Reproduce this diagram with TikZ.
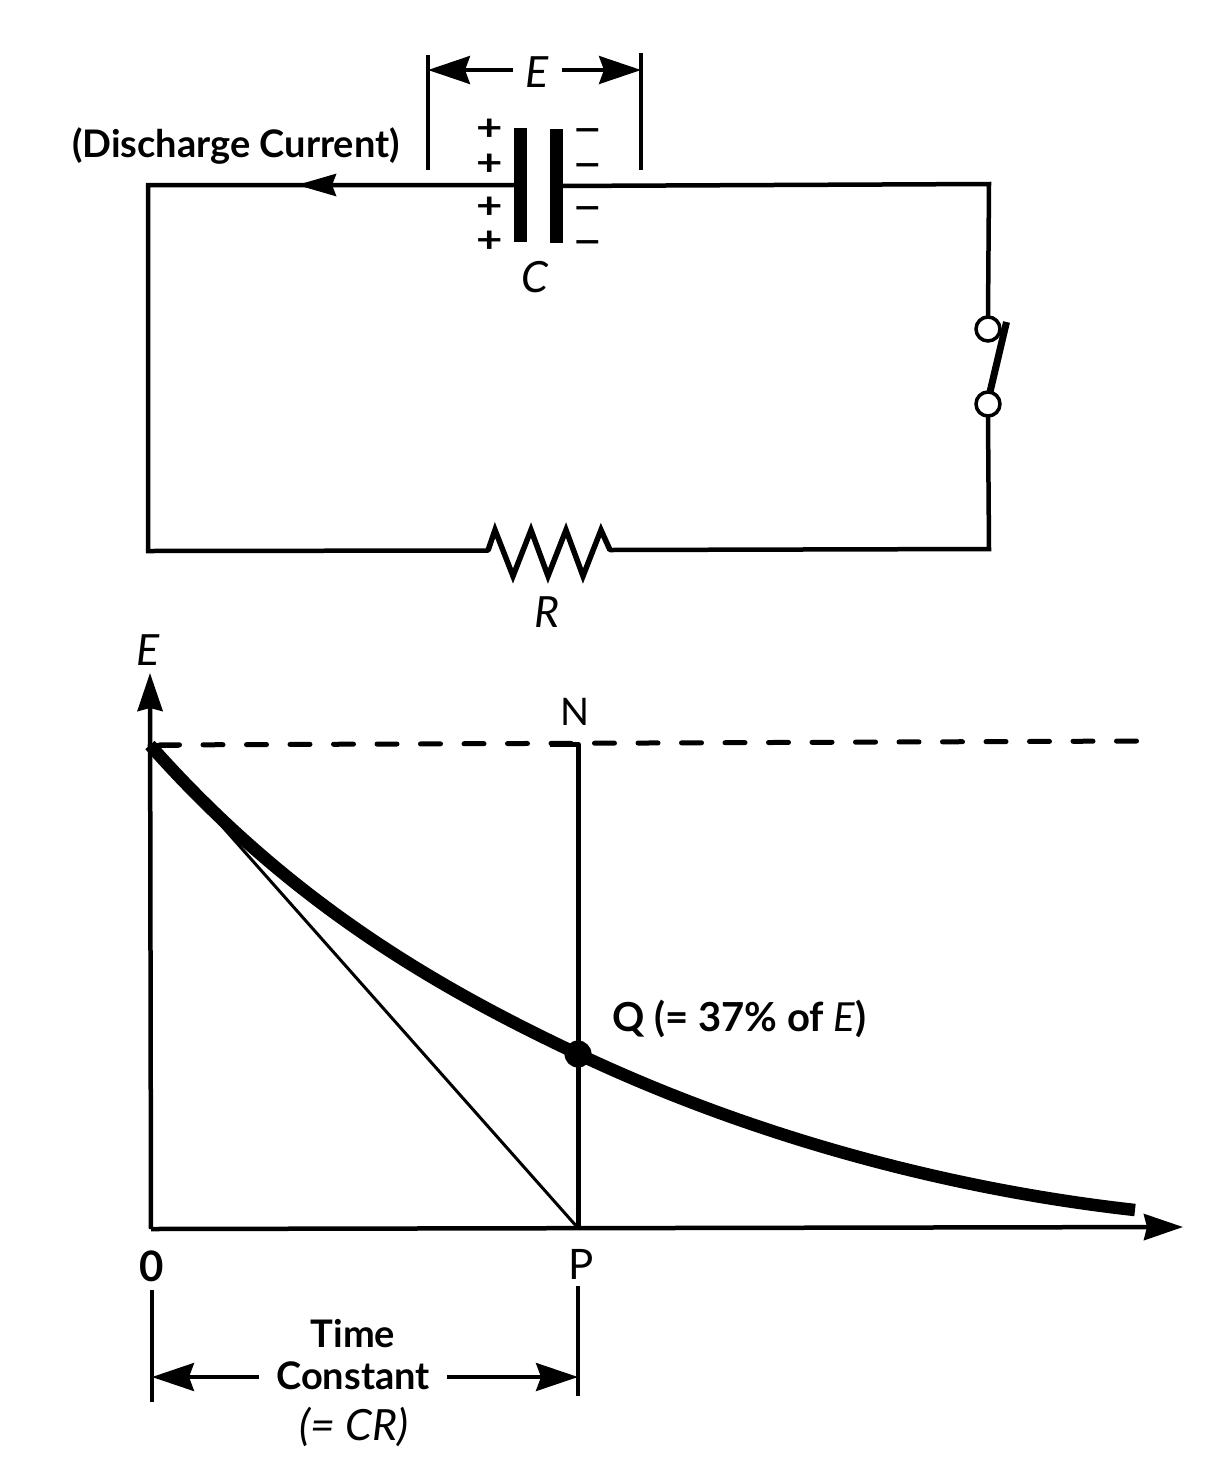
\documentclass[tikz,border=0pt]{standalone}
\usepackage{fontspec}
\setmainfont{Lato}
\usetikzlibrary{arrows.meta}
\tikzset{
  wire/.style={line width=4.5pt,line join=miter,line cap=round},
  zigzag/.style={line width=5.5pt,line join=miter,miter limit=10},
  thin line/.style={line width=3.5pt,line cap=butt},
  plate/.style={draw=none,fill=black,minimum width=13pt,minimum height=114pt,inner sep=0pt},
  sign/.style={inner sep=0pt,font=\fontsize{36.5}{37}\selectfont\bfseries},
  lab/.style={inner sep=0pt,font=\fontsize{38}{40}\selectfont\bfseries},
  ilab/.style={inner sep=0pt,font=\fontsize{43}{44}\selectfont\itshape},
  term/.style={circle,draw,fill=white,line width=3.5pt,minimum size=24pt,inner sep=0pt},
  bigarrow/.style={-{Stealth[length=42pt,width=28pt,inset=5pt]},line width=3.5pt},
  axis/.style={line width=4.5pt},
  dashy/.style={line width=5pt,line cap=round},
}
\begin{document}
\begin{tikzpicture}[x=1pt,y=-1pt]
\useasboundingbox (0,0) rectangle (1219,1476);
% circuit
\node[plate] (p1) at (520,185) {};
\node[plate] (p2) at (556.5,186) {};
\coordinate (tl) at (148,185);
\coordinate (bl) at (148,551);
\coordinate (rs) at (488,550.5);
\coordinate (re) at (610,550);
\coordinate (br) at (989,549);
\coordinate (tr) at (989,184);
\node[term] (s1) at (988,329) {};
\node[term] (s2) at (988,404) {};
\draw[wire] (p1.center) -- (tl) -- (bl) -- (rs);
\draw[zigzag] (rs) -- (495,530) -- (513,576) -- (531,530) -- (548,576) -- (566,530) -- (583,576) -- (601,530) -- (re);
\draw[wire] (re) -- (br) -- (s2.south);
\draw[wire] (s1.north) -- (tr) -- (p2.center);
\node[plate] at (p1) {};
\node[plate] at (p2) {};
\coordinate (ca) at (336,185);
\coordinate (cb) at (297,185);
\draw[-{Stealth[length=39pt,width=22pt,inset=4pt]},line width=4.5pt] (ca) -- (cb);
\coordinate (b1) at (990,392);
\coordinate (b2) at (1006.5,322);
\draw[line width=7pt] (b1) -- (b2);
\node[sign] (pa) at (490,130) {\scalebox{1.25}[1]{+}};
\node[sign] (pb) at (490,165) {\scalebox{1.25}[1]{+}};
\node[sign] (pc) at (490,208) {\scalebox{1.25}[1]{+}};
\node[sign] (pd) at (490,242) {\scalebox{1.25}[1]{+}};
\node[sign] (ma) at (588,136) {\scalebox{1.35}[1]{−}};
\node[sign] (mb) at (588,171) {\scalebox{1.35}[1]{−}};
\node[sign] (mc) at (588,214) {\scalebox{1.35}[1]{−}};
\node[sign] (md) at (588,248) {\scalebox{1.35}[1]{−}};
\node[lab] (dc) at (236,146) {(Discharge Current)};
\node[ilab] (cl) at (535,277) {C};
\node[ilab] (rl) at (547,612) {R};
% E dimension
\coordinate (t1a) at (428,55); \coordinate (t1b) at (428,170);
\coordinate (t2a) at (641,53); \coordinate (t2b) at (641,170);
\draw[thin line] (t1a) -- (t1b);
\draw[thin line] (t2a) -- (t2b);
\node[ilab] (el) at (537,72) {E};
\coordinate (ela) at (428,70); \coordinate (elb) at (513,70);
\coordinate (era) at (562,70); \coordinate (erb) at (641,70);
\draw[bigarrow] (elb) -- (ela);
\draw[bigarrow] (era) -- (erb);
% graph
\coordinate (o) at (151,1229);
\coordinate (ytop) at (150,673);
\coordinate (xend) at (1183,1227);
\coordinate (e0) at (150,745);
\coordinate (e1) at (178,745);
\coordinate (n0) at (550,744);
\coordinate (n) at (578,744);
\coordinate (p) at (578,1228);
\coordinate (dend) at (1142,741);
\draw[-{Stealth[length=38pt,width=25pt,inset=3pt]},axis] (o) -- (ytop);
\draw[-{Stealth[length=39pt,width=26pt,inset=3pt]},axis] (o) -- (xend);
\draw[dashy,dash pattern=on 20pt off 23.5pt,dash phase=34pt] (e0) -- (dend);
\draw[dashy] (e0) -- (e1);
\draw[dashy,line join=round,line cap=butt] (n0) -- (n) -- (p);
\draw[line width=3pt] (e0) -- (p);
\coordinate (cend) at (1135,1210);
\node[circle,fill=black,minimum size=27pt,inner sep=0pt] (q) at (578,1054) {};
\draw[line width=12.5pt,line cap=butt] (e0) .. controls (290,903) and (438,988) .. (q.center)
  .. controls (758,1139) and (955,1190) .. (cend);
\node[ilab] (ey) at (148,650) {E};
\node[lab,font=\fontsize{38}{40}\selectfont] (nl) at (575,712) {N};
\node[lab,anchor=west,font=\fontsize{40}{40}\selectfont\bfseries] (ql) at (612,1019) {Q (= 37\% of {\mdseries\itshape E})};
\node[lab,font=\fontsize{42}{40}\selectfont\bfseries] (zl) at (152,1266) {0};
\node[lab,font=\fontsize{42}{40}\selectfont] (pl) at (581,1264) {P};
\coordinate (l1) at (152,1290); \coordinate (l2) at (152,1402);
\coordinate (r1) at (578,1286); \coordinate (r2) at (578,1396);
\draw[thin line] (l1) -- (l2);
\draw[thin line] (r1) -- (r2);
\node[lab] (tc1) at (353,1334) {Time};
\node[lab] (tc2) at (353,1376) {Constant};
\node[ilab] (tc3) at (354,1427) {(= CR)};
\coordinate (da) at (152,1377); \coordinate (db) at (259,1377);
\coordinate (dc2) at (447,1377); \coordinate (dd) at (578,1377);
\draw[bigarrow] (db) -- (da);
\draw[bigarrow] (dc2) -- (dd);
\end{tikzpicture}
\end{document}
